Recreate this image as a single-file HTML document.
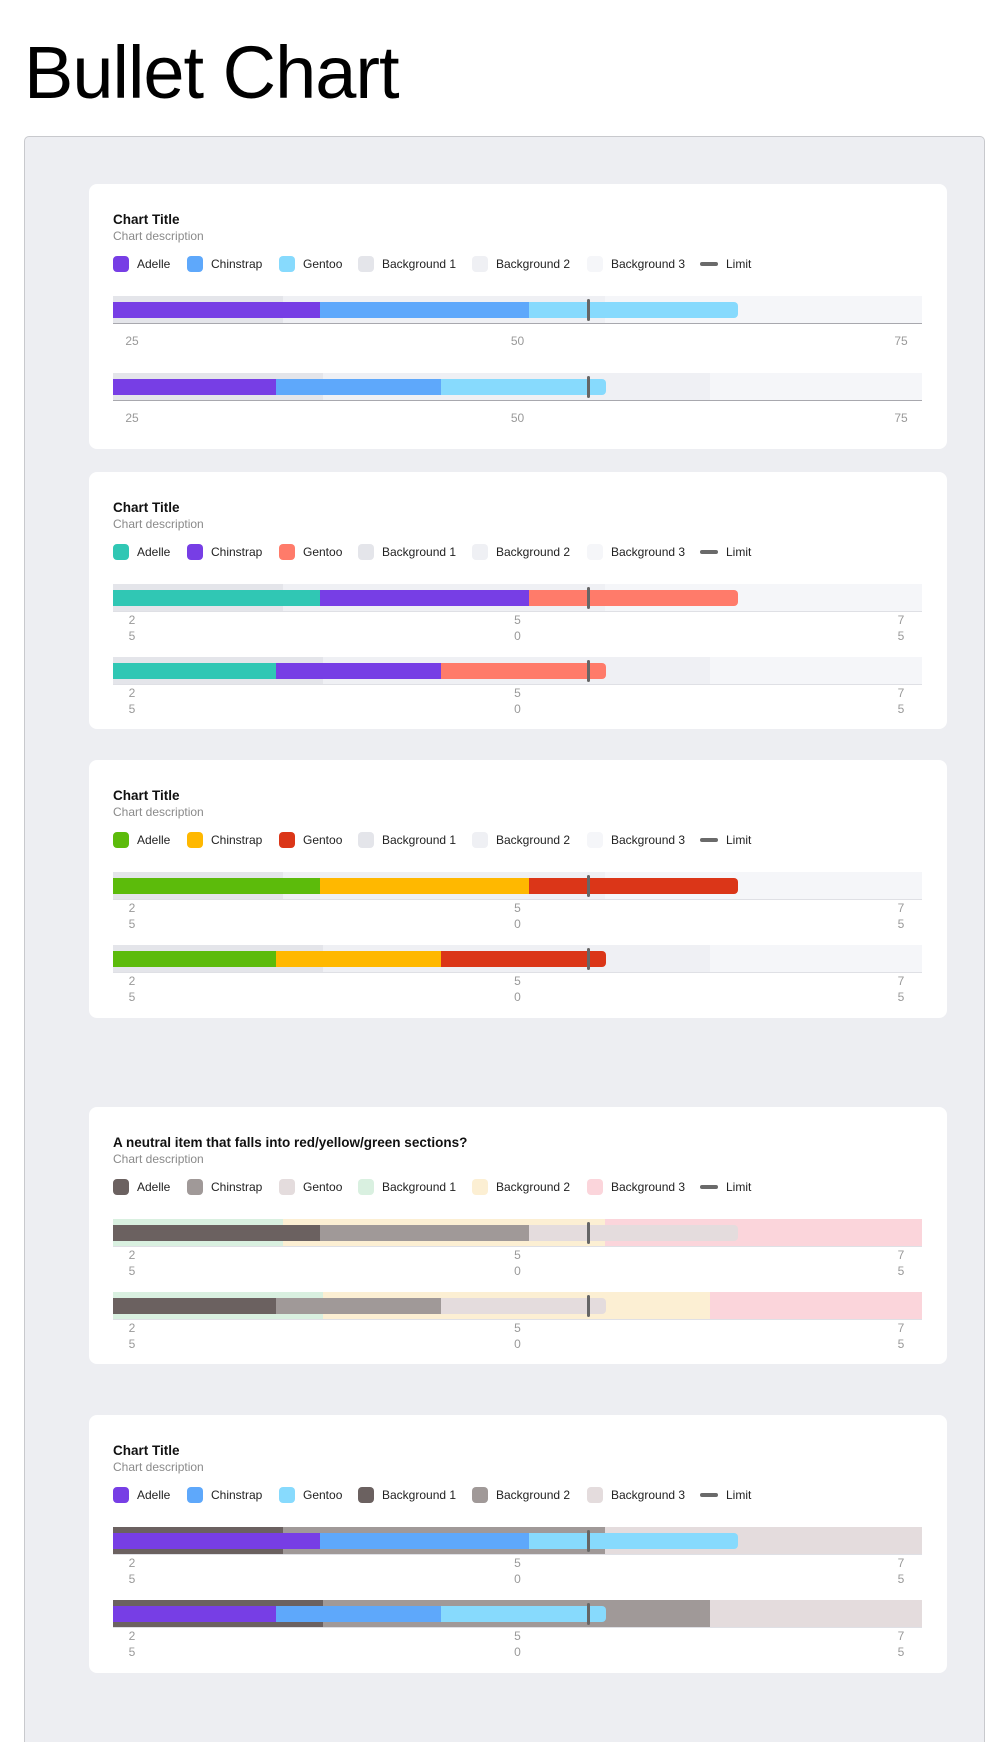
<!DOCTYPE html>
<html><head><meta charset="utf-8">
<style>
*{box-sizing:border-box;margin:0;padding:0}
html,body{width:1008px;height:1742px;overflow:hidden}
body{background:#fff;font-family:"Liberation Sans",sans-serif;position:relative}
#title{position:absolute;left:24px;top:30px;font-size:74px;font-weight:normal;color:#000;letter-spacing:-1px}
#panel{position:absolute;left:24px;top:136px;width:961px;height:1606px;background:#edeef2;border:1px solid #c8c9cd;border-bottom:none;border-radius:5px 5px 0 0}
.card{position:absolute;left:89px;width:858px;background:#fff;border-radius:8px}
.ctitle{position:absolute;left:24px;top:28px;font-size:13.5px;font-weight:bold;color:#111}
.cdesc{position:absolute;left:24px;top:45px;font-size:12px;color:#8a8a8a}
.legend{position:absolute;top:72px;left:0;height:16px}
.lsw{position:absolute;top:0;width:16px;height:16px;border-radius:4px}
.llim{position:absolute;top:6px;width:18px;height:4px;border-radius:2px;background:#6a6a6a}
.ltx{position:absolute;top:1px;font-size:12px;color:#222;white-space:nowrap}
.tick{position:absolute;font-size:12px;color:#999;line-height:16px}
</style></head><body>
<div id="title">Bullet Chart</div>
<div id="panel"></div>
<script>
const tickValues=[25,50,75];
const domainMin=25, domainMax=75;
const adelleValues=[37.8,35.1];
const chinstrapValues=[50.7,45.3];
const gentooValues=[63.6,55.5];
const limitValues=[54.4,54.4];
const bg1Values=[35.5,38.0];
const bg2Values=[55.4,61.9];
const bg3Values=[75,75];
const legendLabels=["Adelle","Chinstrap","Gentoo","Background 1","Background 2","Background 3","Limit"];
const cardTitles=["Chart Title","Chart Title","Chart Title","A neutral item that falls into red/yellow/green sections?","Chart Title"];
const cardTops=[184,472,760,1107,1415];
const cardHeights=[265,257,258,257,258];
const seriesColors=[["#773ee5","#5ea8fb","#87dafd"],["#30c7b4","#773ee5","#ff7b6a"],["#5cbb0b","#ffb800","#db3618"],["#6b6160","#a09998","#e4dcdd"],["#773ee5","#5ea8fb","#87dafd"]];
const bgColors=[["#e4e5ea","#eff0f4","#f5f6f9"],["#e4e5ea","#eff0f4","#f5f6f9"],["#e4e5ea","#eff0f4","#f5f6f9"],["#d9f0e0","#fcefd3","#fbd5db"],["#6b6160","#a09998","#e4dcdd"]];
const legendX=[24,98,190,269,383,498,611];
const legendTextX=[48,122,214,293,407,522,637];
const PL=24, PW=809;
function xs(v){return PL+(v-domainMin)/(domainMax-domainMin)*PW;}
function el(parent,cls,style,text){const d=document.createElement('div');if(cls)d.className=cls;d.style.cssText=style||'';if(text!=null)d.textContent=text;parent.appendChild(d);return d;}
const body=document.body;
cardTitles.forEach((t,ci)=>{
  const card=el(body,'card','top:'+cardTops[ci]+'px;height:'+cardHeights[ci]+'px');
  
  
  const ti=el(card,'ctitle','',t);
  
  
  const de=el(card,'cdesc','','Chart description');
  
  
  const lg=el(card,'legend','');
  
  
  const legCols=seriesColors[ci].concat(bgColors[ci]);
  legendLabels.forEach((lab,li)=>{
    let sw;
    if(li<6){sw=el(lg,'lsw','left:'+legendX[li]+'px;background:'+legCols[li]);}
    else{sw=el(lg,'llim','left:'+legendX[li]+'px');}
    
    
    const tx=el(lg,'ltx','left:'+legendTextX[li]+'px',lab);
    
    
  });
  const wrap=ci>0;
  const rowTops=wrap?[112,185]:[112,189];
  rowTops.forEach((rt,ri)=>{
    const bgs=[bg1Values[ri],bg2Values[ri],bg3Values[ri]];
    let prev=domainMin;
    bgs.forEach((v,bi)=>{
      const b=el(card,'','position:absolute;top:'+rt+'px;height:28px;left:'+xs(prev)+'px;width:'+(xs(v)-xs(prev))+'px;background:'+bgColors[ci][bi]);
      
      
      prev=v;
    });
    const ax=el(card,'','position:absolute;top:'+(rt+27)+'px;height:1px;left:'+PL+'px;width:'+PW+'px;background:'+(ci==0?'#a8a8ae':'#dfe0e5'));
    
    
    const vals=[adelleValues[ri],chinstrapValues[ri],gentooValues[ri]];
    const names=['adelle','chinstrap','gentoo'];
    prev=domainMin;
    vals.forEach((v,si)=>{
      const b=el(card,'','position:absolute;top:'+(rt+6)+'px;height:16px;left:'+xs(prev)+'px;width:'+(xs(v)-xs(prev))+'px;background:'+seriesColors[ci][si]+(si==2?';border-radius:0 4px 4px 0':''));
      
      
      prev=v;
    });
    const lm=el(card,'','position:absolute;top:'+(rt+3)+'px;height:22px;width:3px;border-radius:1.5px;background:#666;left:'+(xs(limitValues[ri])-1.5)+'px');
    
    
    tickValues.forEach((tv,ti2)=>{
      const x=xs(tv)+(ti2==0?19:ti2==tickValues.length-1?-21:0);
      let tk;
      if(!wrap){tk=el(card,'tick','top:'+(rt+37)+'px;left:'+(x-10)+'px;width:20px;text-align:center',String(tv));}
      else{tk=el(card,'tick','top:'+(rt+28)+'px;left:'+(x-5)+'px;width:10px;text-align:center;word-break:break-all',String(tv));}
      
      
    });
  });
});
</script>
</body></html>
